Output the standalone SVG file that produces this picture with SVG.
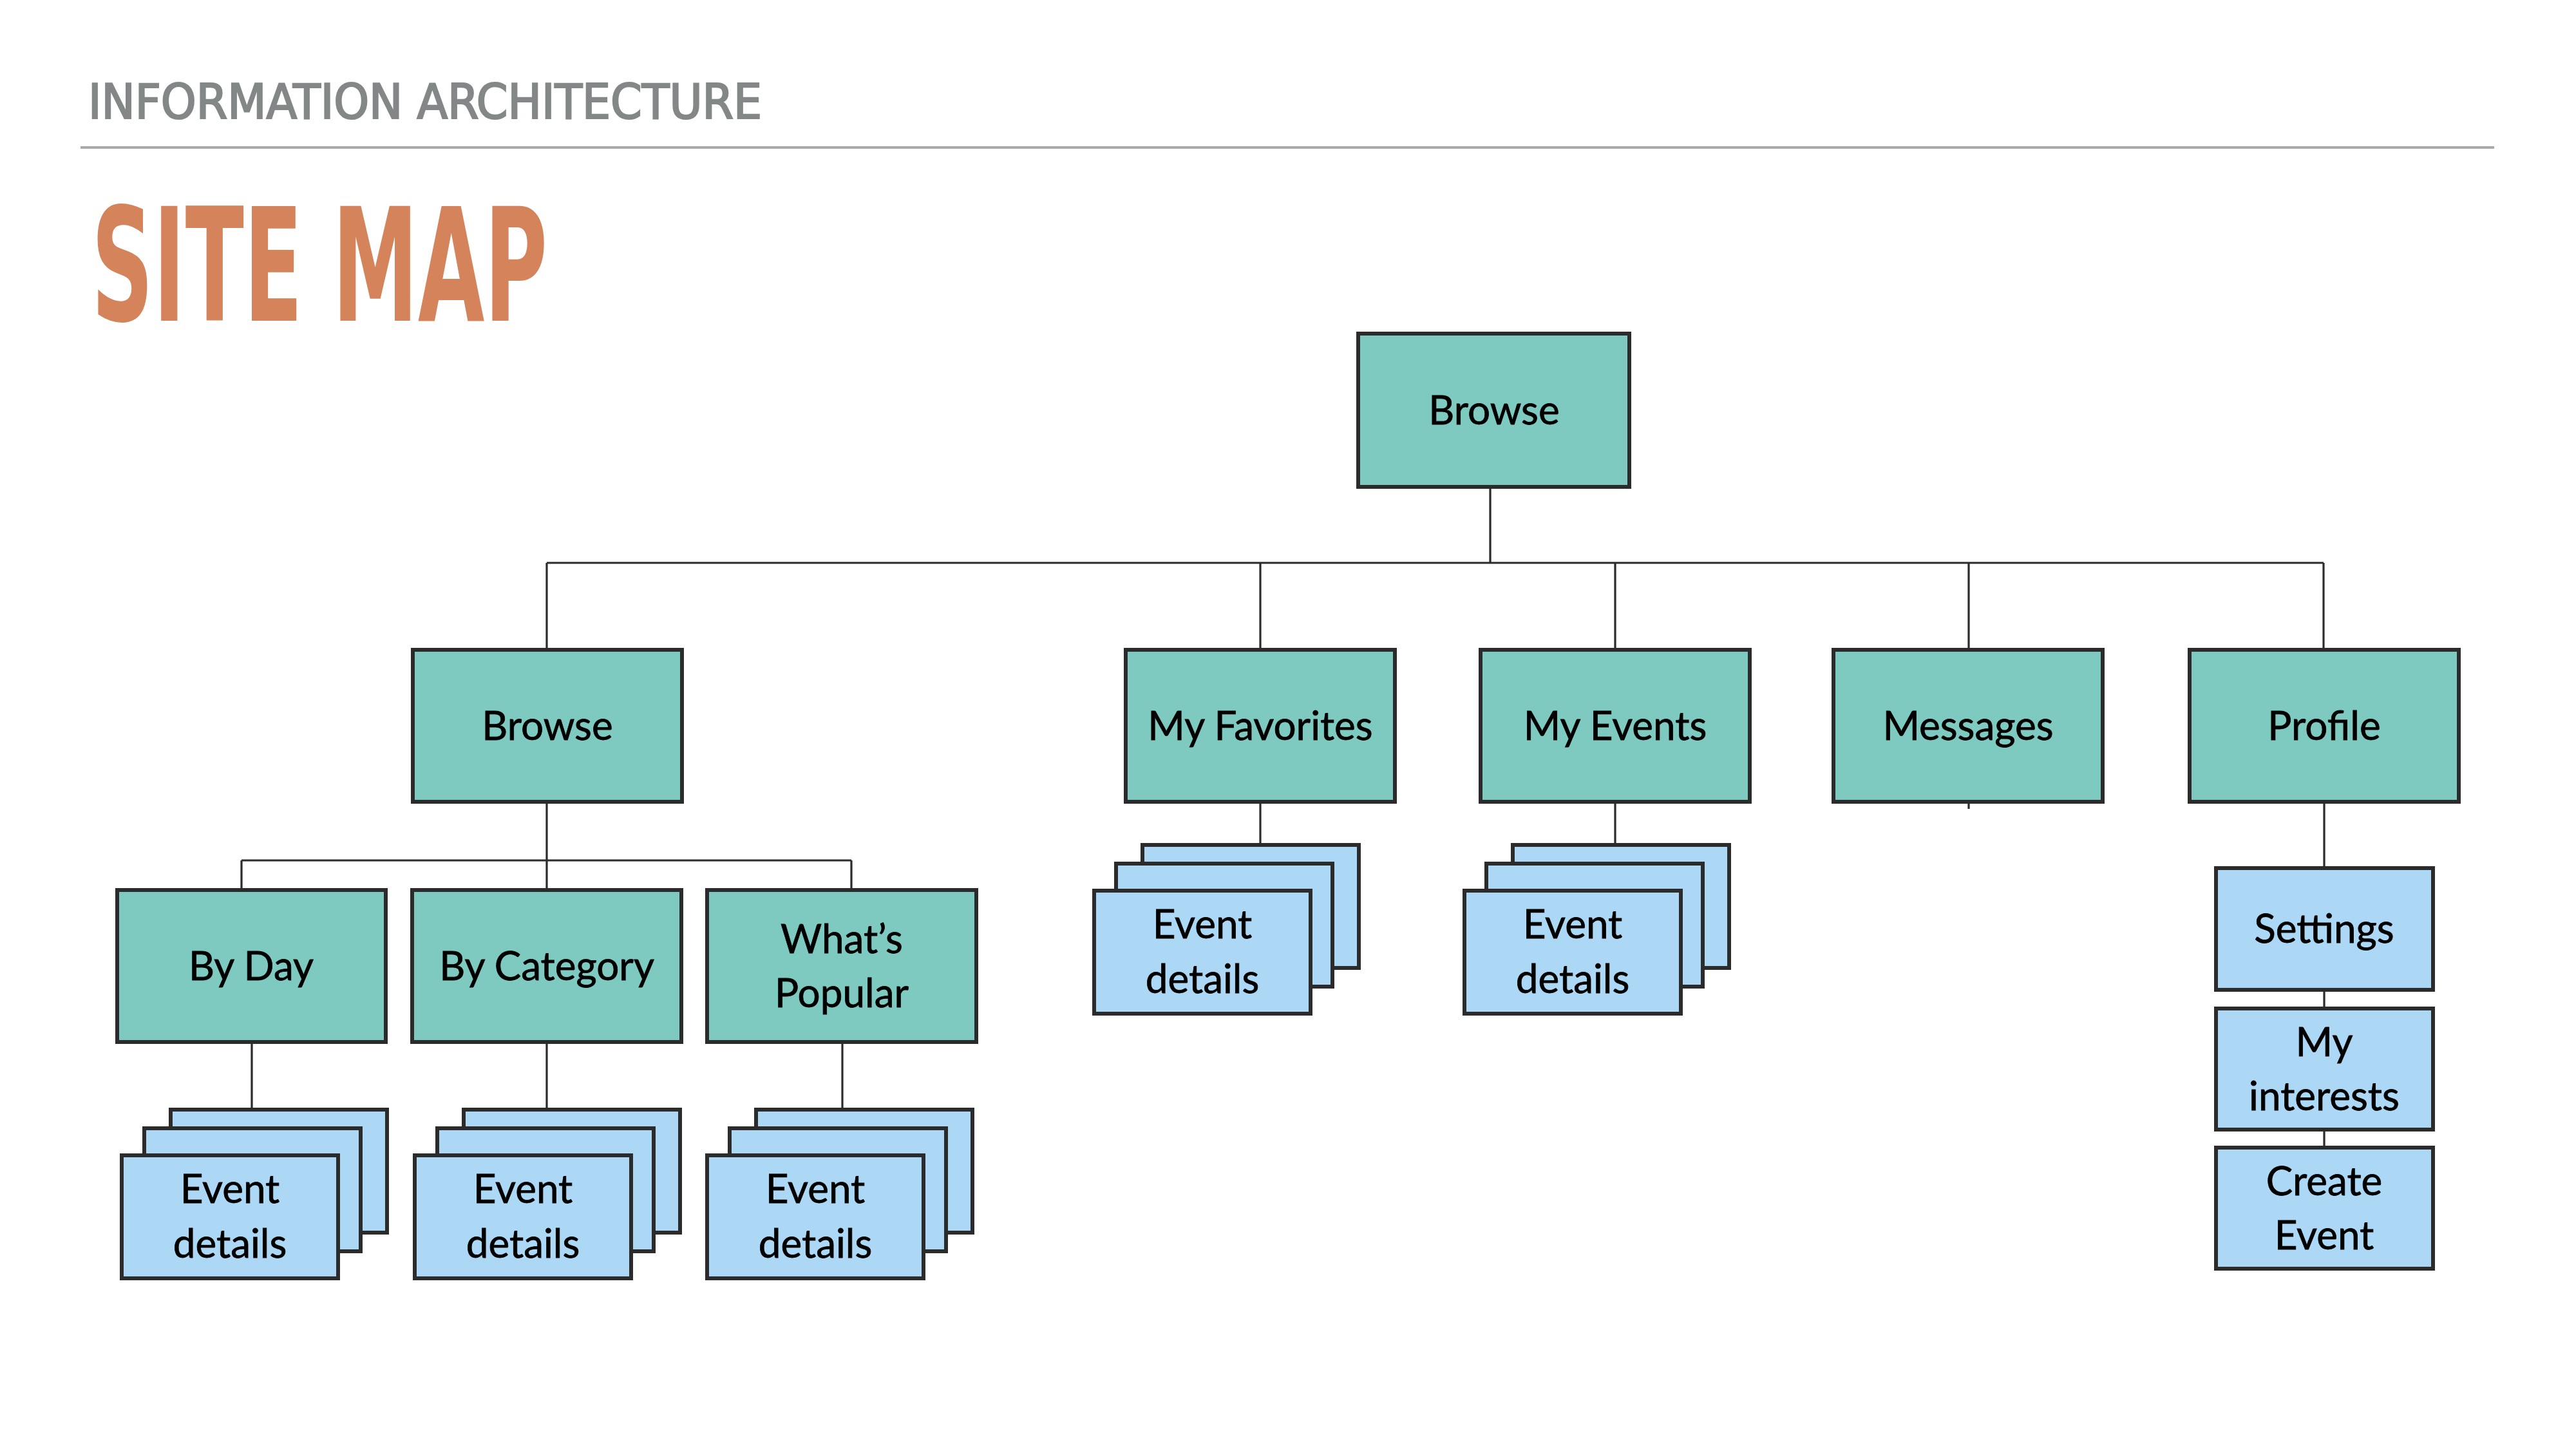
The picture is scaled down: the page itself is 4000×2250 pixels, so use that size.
<svg xmlns="http://www.w3.org/2000/svg" width="4000" height="2250" viewBox="0 0 4000 2250">
<style>
.bg{fill:#ffffff}
.main{fill:#7ECAC0;stroke:#2B2B2B;stroke-width:6}
.sub{fill:#ADD8F5;stroke:#2B2B2B;stroke-width:6}
.lbl{font-family:Lato,"Noto Sans",sans-serif;font-size:62px;fill:#000;stroke:#000;stroke-width:0.8;text-anchor:middle}
.conn line{stroke:#2B2B2B;stroke-width:3.2;fill:none}
.h1{font-family:"DejaVu Sans Condensed","DejaVu Sans",sans-serif;font-size:74px;fill:#838787;stroke:#838787;stroke-width:2.2}
.h2{font-family:"DejaVu Sans Condensed","DejaVu Sans",sans-serif;font-size:245px;font-weight:bold;fill:#D5835A}
</style>
<rect class="bg" x="0" y="0" width="4000" height="2250"/>
<g id="header">
<text class="h1" x="137" y="184" textLength="1046" lengthAdjust="spacingAndGlyphs">INFORMATION ARCHITECTURE</text>
<line x1="125" y1="229" x2="3873" y2="229" stroke="#AAAAAA" stroke-width="4"/>
<text class="h2" x="142" y="498" textLength="708" lengthAdjust="spacingAndGlyphs">SITE MAP</text>
</g>
<g id="connectors" class="conn">
<line x1="2314" y1="759" x2="2314" y2="874"/>
<line x1="849" y1="874" x2="3608" y2="874"/>
<line x1="849" y1="874" x2="849" y2="1006"/>
<line x1="1957" y1="874" x2="1957" y2="1006"/>
<line x1="2508" y1="874" x2="2508" y2="1006"/>
<line x1="3057" y1="874" x2="3057" y2="1006"/>
<line x1="3608" y1="874" x2="3608" y2="1006"/>
<line x1="849" y1="1248" x2="849" y2="1336"/>
<line x1="375" y1="1336" x2="1322" y2="1336"/>
<line x1="375" y1="1336" x2="375" y2="1379"/>
<line x1="849" y1="1336" x2="849" y2="1379"/>
<line x1="1322" y1="1336" x2="1322" y2="1379"/>
<line x1="391" y1="1621" x2="391" y2="1720"/>
<line x1="849" y1="1621" x2="849" y2="1720"/>
<line x1="1308" y1="1621" x2="1308" y2="1720"/>
<line x1="1957" y1="1248" x2="1957" y2="1309"/>
<line x1="2508" y1="1248" x2="2508" y2="1309"/>
<line x1="3057" y1="1248" x2="3057" y2="1256"/>
<line x1="3609" y1="1248" x2="3609" y2="1345"/>
<line x1="3609" y1="1540" x2="3609" y2="1563"/>
<line x1="3609" y1="1757" x2="3609" y2="1779"/>
</g>
<g id="browse-root">
<rect class="main" x="2109" y="518" width="421" height="238"/>
<text class="lbl" x="2320" y="659">Browse</text>
</g>
<g id="browse">
<rect class="main" x="641" y="1009" width="418" height="236"/>
<text class="lbl" x="850" y="1149">Browse</text>
</g>
<g id="my-favorites">
<rect class="main" x="1748" y="1009" width="418" height="236"/>
<text class="lbl" x="1957" y="1149">My Favorites</text>
</g>
<g id="my-events">
<rect class="main" x="2299" y="1009" width="418" height="236"/>
<text class="lbl" x="2508" y="1149">My Events</text>
</g>
<g id="messages">
<rect class="main" x="2847" y="1009" width="418" height="236"/>
<text class="lbl" x="3056" y="1149">Messages</text>
</g>
<g id="profile">
<rect class="main" x="3400" y="1009" width="418" height="236"/>
<text class="lbl" x="3609" y="1149">Profile</text>
</g>
<g id="by-day">
<rect class="main" x="182" y="1382" width="417" height="236"/>
<text class="lbl" x="390" y="1522">By Day</text>
</g>
<g id="by-category">
<rect class="main" x="640" y="1382" width="418" height="236"/>
<text class="lbl" x="849" y="1522">By Category</text>
</g>
<g id="whats-popular">
<rect class="main" x="1098" y="1382" width="418" height="236"/>
<text class="lbl" x="1307" y="1480">What’s</text>
<text class="lbl" x="1307" y="1564">Popular</text>
</g>
<g id="event-details-day">
<rect class="sub" x="265" y="1723" width="336" height="191"/>
<rect class="sub" x="224" y="1752" width="336" height="191"/>
<rect class="sub" x="189" y="1794" width="336" height="191"/>
<text class="lbl" x="357" y="1868">Event</text>
<text class="lbl" x="357" y="1953">details</text>
</g>
<g id="event-details-category">
<rect class="sub" x="720" y="1723" width="336" height="191"/>
<rect class="sub" x="679" y="1752" width="336" height="191"/>
<rect class="sub" x="644" y="1794" width="336" height="191"/>
<text class="lbl" x="812" y="1868">Event</text>
<text class="lbl" x="812" y="1953">details</text>
</g>
<g id="event-details-popular">
<rect class="sub" x="1174" y="1723" width="336" height="191"/>
<rect class="sub" x="1133" y="1752" width="336" height="191"/>
<rect class="sub" x="1098" y="1794" width="336" height="191"/>
<text class="lbl" x="1266" y="1868">Event</text>
<text class="lbl" x="1266" y="1953">details</text>
</g>
<g id="event-details-favorites">
<rect class="sub" x="1774" y="1312" width="336" height="191"/>
<rect class="sub" x="1733" y="1341" width="336" height="191"/>
<rect class="sub" x="1699" y="1383" width="336" height="191"/>
<text class="lbl" x="1867" y="1457">Event</text>
<text class="lbl" x="1867" y="1542">details</text>
</g>
<g id="event-details-events">
<rect class="sub" x="2349" y="1312" width="336" height="191"/>
<rect class="sub" x="2308" y="1341" width="336" height="191"/>
<rect class="sub" x="2274" y="1383" width="336" height="191"/>
<text class="lbl" x="2442" y="1457">Event</text>
<text class="lbl" x="2442" y="1542">details</text>
</g>
<g id="settings">
<rect class="sub" x="3441" y="1348" width="337" height="189"/>
<text class="lbl" x="3609" y="1464">Settings</text>
</g>
<g id="my-interests">
<rect class="sub" x="3441" y="1566" width="337" height="188"/>
<text class="lbl" x="3609" y="1640">My</text>
<text class="lbl" x="3609" y="1724">interests</text>
</g>
<g id="create-event">
<rect class="sub" x="3441" y="1782" width="337" height="188"/>
<text class="lbl" x="3609" y="1856">Create</text>
<text class="lbl" x="3609" y="1940">Event</text>
</g>
</svg>
